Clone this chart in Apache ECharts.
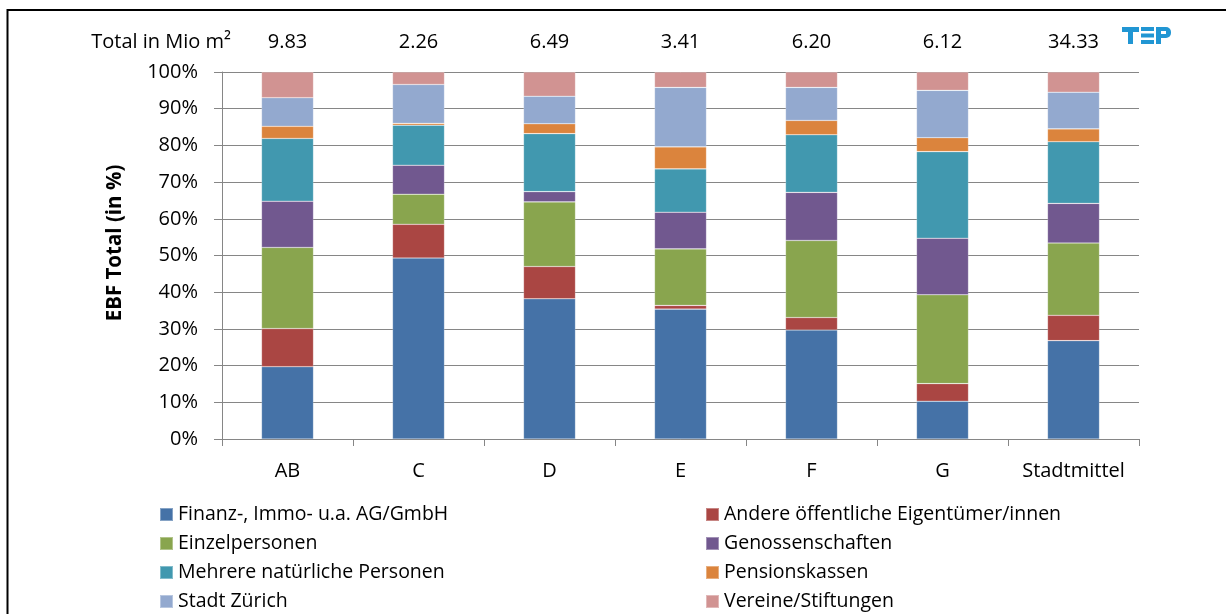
<!DOCTYPE html>
<html>
<head>
<meta charset="utf-8">
<script src="https://cdn.jsdelivr.net/npm/echarts@6/dist/echarts.min.js"></script>
<style>
  html, body { margin: 0; padding: 0; background: #fff; }
  #chart { width: 1226px; height: 614px; }
</style>
</head>
<body>
<div id="chart"></div>
<script>
// Districts and their total floor area (EBF, million m²)
const categories = ['AB', 'C', 'D', 'E', 'F', 'G', 'Stadtmittel'];
const totals = ['9.83', '2.26', '6.49', '3.41', '6.20', '6.12', '34.33'];

// Share of EBF by owner type, in percent
const finanz   = [19.7, 49.3, 38.2, 35.4, 29.7, 10.3, 26.8];
const andere   = [10.4,  9.2,  8.8,  1.0,  3.4,  4.8,  6.9];
const einzel   = [22.1,  8.2, 17.6, 15.4, 21.0, 24.2, 19.7];
const genossen = [12.6,  7.9,  2.8, 10.0, 13.1, 15.4, 10.8];
const mehrere  = [17.1, 10.9, 15.8, 11.8, 15.7, 23.6, 16.8];
const pension  = [ 3.3,  0.5,  2.7,  6.0,  3.9,  3.8,  3.5];
const stadt    = [ 7.8, 10.6,  7.5, 16.2,  9.0, 12.9, 10.0];
const vereine  = [ 7.0,  3.4,  6.6,  4.2,  4.2,  5.0,  5.5];

const seriesDefs = [
  { name: 'Finanz-, Immo- u.a. AG/GmbH', data: finanz, color: '#4572A7' },
  { name: 'Andere öffentliche Eigentümer/innen', data: andere, color: '#AA4643' },
  { name: 'Einzelpersonen', data: einzel, color: '#89A54E' },
  { name: 'Genossenschaften', data: genossen, color: '#71588F' },
  { name: 'Mehrere natürliche Personen', data: mehrere, color: '#4198AF' },
  { name: 'Pensionskassen', data: pension, color: '#DB843D' },
  { name: 'Stadt Zürich', data: stadt, color: '#93A9CF' },
  { name: 'Vereine/Stiftungen', data: vereine, color: '#D19392' }
];

const FONT = '"Open Sans", Lato, sans-serif';
const FS = 20;
const GRID_COLOR = '#868686';
const LOGO = '#2196D3';

const chart = echarts.init(document.getElementById('chart'), null, { renderer: 'canvas' });

const legendCommon = {
  orient: 'vertical',
  icon: 'rect',
  itemWidth: 13,
  itemHeight: 13,
  itemGap: 8,
  padding: 0,
  height: 120,
  selectedMode: false,
  textStyle: { fontFamily: FONT, fontSize: 19.5, color: '#000', lineHeight: 21 }
};

chart.setOption({
  animation: false,
  backgroundColor: '#fff',
  grid: { left: 222, right: 87, top: 72, bottom: 175 },
  legend: [
    Object.assign({}, legendCommon, {
      left: 159, top: 504,
      data: [0, 2, 4, 6].map(i => seriesDefs[i].name)
    }),
    Object.assign({}, legendCommon, {
      left: 705, top: 504,
      data: [1, 3, 5, 7].map(i => seriesDefs[i].name)
    })
  ],
  xAxis: [
    {
      type: 'category',
      data: categories,
      position: 'bottom',
      axisLine: { lineStyle: { color: GRID_COLOR, width: 1 } },
      axisTick: { show: true, length: 7, lineStyle: { color: GRID_COLOR } },
      axisLabel: { interval: 0, fontFamily: FONT, fontSize: FS, color: '#000', margin: 22 }
    },
    {
      type: 'category',
      data: totals,
      position: 'top',
      axisLine: { show: false },
      axisTick: { show: false },
      axisLabel: { interval: 0, fontFamily: FONT, fontSize: FS, color: '#000', margin: 20 }
    }
  ],
  yAxis: {
    type: 'value',
    min: 0,
    max: 100,
    interval: 10,
    axisLine: { show: true, lineStyle: { color: GRID_COLOR, width: 1 } },
    axisTick: { show: true, inside: false, length: 8, lineStyle: { color: GRID_COLOR } },
    axisLabel: { formatter: '{value}%', fontFamily: FONT, fontSize: FS, color: '#000', margin: 24 },
    splitLine: { show: true, lineStyle: { color: GRID_COLOR, width: 1 } }
  },
  series: seriesDefs.map(s => ({
    name: s.name,
    type: 'bar',
    stack: 'total',
    barWidth: 52,
    data: s.data,
    itemStyle: { color: s.color, borderColor: 'rgba(255,255,255,0.35)', borderWidth: 0.6 }
  })),
  graphic: [
    // frame lines (top and left)
    {
      type: 'polyline',
      shape: { points: [[7.5, 614], [7.5, 10], [1226, 10]] },
      style: { stroke: '#000', lineWidth: 2, fill: null }
    },
    {
      type: 'text',
      x: 231, y: 42,
      style: {
        text: 'Total in Mio m²',
        fontFamily: FONT, fontSize: FS, fill: '#000',
        align: 'right', verticalAlign: 'middle'
      }
    },
    {
      type: 'text',
      x: 115, y: 243,
      rotation: Math.PI / 2,
      style: {
        text: 'EBF Total (in %)',
        fontFamily: FONT, fontSize: 20.5, fontWeight: 'bold', fill: '#000',
        align: 'center', verticalAlign: 'middle'
      }
    },
    // TEP logo
    {
      type: 'group',
      children: [
        { type: 'rect', shape: { x: 1122, y: 27, width: 17, height: 5 }, style: { fill: LOGO } },
        { type: 'rect', shape: { x: 1128, y: 27, width: 5, height: 17 }, style: { fill: LOGO } },
        { type: 'rect', shape: { x: 1141, y: 27, width: 13, height: 4 }, style: { fill: LOGO } },
        { type: 'rect', shape: { x: 1141, y: 33.5, width: 13, height: 4 }, style: { fill: LOGO } },
        { type: 'rect', shape: { x: 1141, y: 40, width: 13, height: 4 }, style: { fill: LOGO } },
        { type: 'rect', shape: { x: 1156, y: 27, width: 5, height: 17 }, style: { fill: LOGO } },
        { type: 'rect', shape: { x: 1156, y: 27, width: 15, height: 11, r: [0, 5, 5, 0] }, style: { fill: LOGO } },
        { type: 'rect', shape: { x: 1161, y: 31, width: 5, height: 3 }, style: { fill: '#fff' } }
      ]
    }
  ]
});
</script>
</body>
</html>
